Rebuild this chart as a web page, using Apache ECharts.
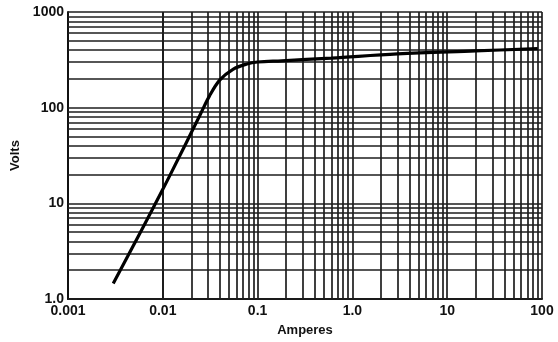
<!DOCTYPE html>
<html>
<head>
<meta charset="utf-8">
<script src="https://cdn.jsdelivr.net/npm/echarts@6/dist/echarts.min.js"></script>
<style>
  html, body { margin: 0; padding: 0; background: #fff; }
  #chart { width: 558px; height: 342px; }
</style>
</head>
<body>
<div id="chart"></div>
<script>
// curve (amperes, volts)
var amps  = [0.003, 0.006, 0.01, 0.015, 0.02, 0.025, 0.031, 0.04, 0.055, 0.077, 0.1, 0.18, 0.6, 3, 20, 90];
var volts = [1.45,  5.3,   14,   31,    55,   86,    132,   195,  252,   286,   300, 309,  330, 365, 392, 415];

var xTickLabels = ['0.001', '0.01', '0.1', '1.0', '10', '100'];
var yTickLabels = ['1.0', '10', '100', '1000'];

// log graph paper lines: 1..9 in each decade
var xDecades = [0.001, 0.01, 0.1, 1, 10];
var yDecades = [1, 10, 100];
var steps = [1, 2, 3, 4, 5, 6, 7, 8, 9];

var gridX = [], gridY = [];
xDecades.forEach(function (d) { steps.forEach(function (s) { gridX.push({ xAxis: +(d * s).toPrecision(6) }); }); });
gridX.push({ xAxis: 100 });
yDecades.forEach(function (d) { steps.forEach(function (s) { gridY.push({ yAxis: d * s }); }); });
gridY.push({ yAxis: 1000 });

var curve = amps.map(function (a, i) { return [a, volts[i]]; });

var labelFont = {
  color: '#111',
  fontFamily: 'Liberation Sans',
  fontSize: 14,
  fontWeight: 'bold'
};
var nameFont = { color: '#111', fontFamily: 'Liberation Sans', fontSize: 13, fontWeight: 'bold' };

var chart = echarts.init(document.getElementById('chart'));
chart.setOption({
  animation: false,
  grid: { left: 68, top: 12, right: 16, bottom: 41 },
  xAxis: {
    type: 'log',
    logBase: 10,
    min: 0.001,
    max: 100,
    name: 'Amperes',
    nameLocation: 'middle',
    nameGap: 25,
    nameTextStyle: nameFont,
    axisLine: { show: true, lineStyle: { color: '#111', width: 2 } },
    axisTick: { show: false },
    splitLine: { show: false },
    axisLabel: Object.assign({
      margin: 5,
      formatter: function (v) { return xTickLabels[Math.round(Math.log10(v)) + 3]; }
    }, labelFont)
  },
  yAxis: {
    type: 'log',
    logBase: 10,
    min: 1,
    max: 1000,
    name: 'Volts',
    nameLocation: 'middle',
    nameGap: 41,
    nameRotate: 90,
    nameTextStyle: nameFont,
    axisLine: { show: true, lineStyle: { color: '#111', width: 2 } },
    axisTick: { show: false },
    splitLine: { show: false },
    axisLabel: Object.assign({
      margin: 4,
      formatter: function (v) { return yTickLabels[Math.round(Math.log10(v))]; }
    }, labelFont)
  },
  series: [
    {
      type: 'line',
      data: [],
      silent: true,
      markLine: {
        silent: true,
        symbol: 'none',
        label: { show: false },
        lineStyle: { type: 'solid', color: '#1e1e1e', width: 1.7 },
        data: gridX.concat(gridY)
      }
    },
    {
      type: 'line',
      data: curve,
      smooth: 0.35,
      showSymbol: false,
      lineStyle: { color: '#000', width: 3.2 },
      z: 5
    }
  ]
});
</script>
</body>
</html>
